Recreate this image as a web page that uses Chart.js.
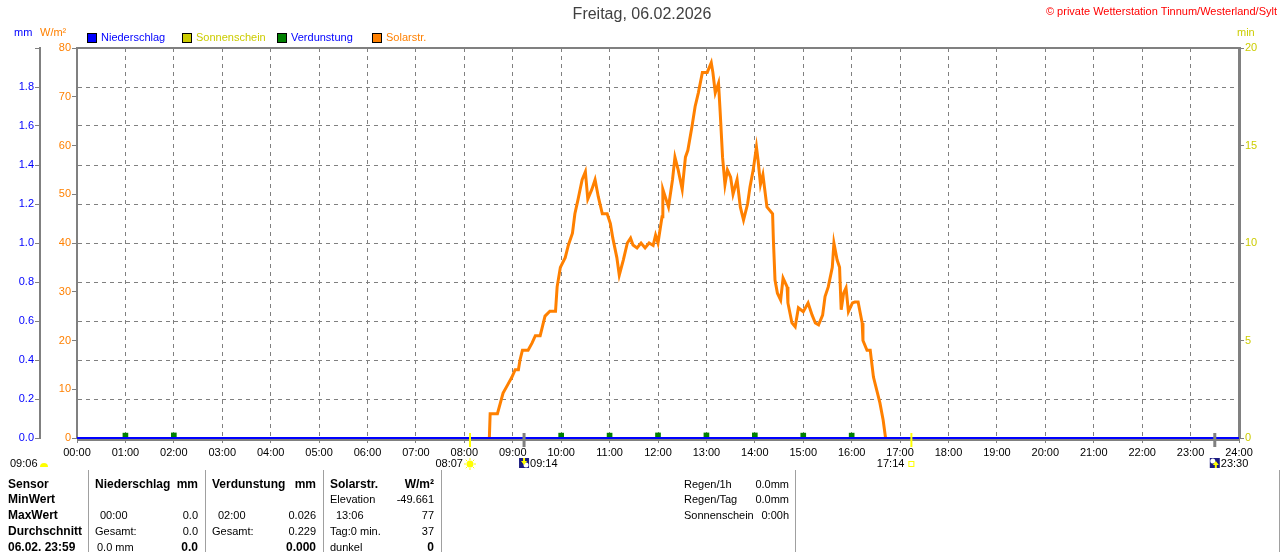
<!DOCTYPE html>
<html>
<head>
<meta charset="utf-8">
<script src="https://cdn.jsdelivr.net/npm/chart.js@4.4.0/dist/chart.umd.min.js"></script>
<style>
  body { margin: 0; background: #fff; }
  canvas { display: block; }
</style>
</head>
<body>
<canvas id="wetterChart" width="1280" height="552"></canvas>
<script>
// Solarstrahlung: Minuten seit 00:00 und Wert in W/m²
var solarMinuten = [511, 512, 521, 524, 528, 534, 539, 543, 547, 549, 552, 559, 564, 568, 574, 577, 580, 586, 593, 595,
  599, 605, 609, 614, 617, 621, 626, 630, 633, 638, 642, 646, 651, 657, 661, 664, 669, 672, 677, 682,
  686, 689, 694, 699, 704, 709, 714, 717, 720, 725, 726, 733, 738, 741, 745, 750, 754, 757, 762, 766,
  770, 775, 781, 786, 788, 791, 795, 797, 800, 803, 806, 810, 813, 818, 822, 826, 831, 834, 838, 842,
  844, 847, 850, 855, 862, 863, 865, 868, 872, 875, 880, 881, 886, 890, 894, 900, 906, 911, 915, 919,
  924, 927, 931, 936, 938, 942, 945, 947, 950, 953, 956, 961, 964, 968, 973, 974, 979, 983, 987, 992,
  995, 999, 1002];
var solarWerte = [0, 5, 5, 6.8, 9.2, 11, 12.5, 14, 14, 16, 18, 18, 19.5, 21, 21, 23, 25, 26, 26, 31,
  35, 37, 39.6, 42, 46, 49, 53, 54.6, 49, 51, 53, 49.5, 46, 46, 44, 41, 37, 33.4, 36.5, 40,
  41, 39.6, 39, 40, 39, 40, 39.5, 41.6, 40, 45.4, 51, 47.4, 53, 57.6, 55, 51, 57.6, 59, 63.8, 68,
  70.8, 75, 75, 77, 75, 70.8, 72.8, 67, 57.6, 52, 55, 53.5, 50, 53, 47.4, 44.7, 48, 51.5, 55, 59.7,
  57, 52, 54, 47.4, 46, 40.6, 32.4, 29.7, 28.3, 32.8, 31, 27.7, 23.6, 22.8, 26.7, 25.9, 27.7, 25.2, 23.6, 23.2,
  25.2, 29, 31, 35, 40, 36.5, 35, 26.3, 29.7, 30.8, 25.9, 27.7, 27.9, 27.9, 23.6, 20, 18, 18, 12.5, 9.2,
  7.2, 3.7, 0];

// Verdunstung pro Stunde (mm)
var verdunstungStunden = [1, 2, 10, 11, 12, 13, 14, 15, 16];
var verdunstungWerte = [0.025, 0.026, 0.025, 0.025, 0.026, 0.026, 0.026, 0.025, 0.025];

// Niederschlag pro Stunde (mm)
var niederschlagStunden = [0, 1, 2, 3, 4, 5, 6, 7, 8, 9, 10, 11, 12, 13, 14, 15, 16, 17, 18, 19, 20, 21, 22, 23, 24];
var niederschlagWerte = [0, 0, 0, 0, 0, 0, 0, 0, 0, 0, 0, 0, 0, 0, 0, 0, 0, 0, 0, 0, 0, 0, 0, 0, 0];

// Sonne und Mond
var sonnenAufgang = "08:07";
var sonnenUntergang = "17:14";
var mondUntergang = "09:14";
var mondAufgang = "23:30";
var sonnenscheinStart = "09:06";

// Tabelle unter dem Diagramm
var tabelleZeilen = ["Sensor", "MinWert", "MaxWert", "Durchschnitt", "06.02. 23:59"];

var ORANGE = "#ff8000";
var GELB = "#cccc00";
var BLAU = "#0000ff";
var GRUEN = "#008000";
var GRAU = "#808080";
var FONT = "'Liberation Sans', Arial, sans-serif";

function zeitInMinuten(t) {
  var p = t.split(":");
  return parseInt(p[0], 10) * 60 + parseInt(p[1], 10);
}

function punkte(xs, ys, faktor) {
  var arr = [];
  for (var i = 0; i < xs.length; i++) {
    arr.push({ x: xs[i] * faktor, y: ys[i] });
  }
  return arr;
}

function sonneZeichnen(ctx, x, y) {
  ctx.save();
  ctx.strokeStyle = "#ffff00";
  ctx.fillStyle = "#ffff00";
  ctx.lineWidth = 1;
  for (var a = 0; a < 8; a++) {
    var w = a * Math.PI / 4;
    ctx.beginPath();
    ctx.moveTo(x + Math.cos(w) * 4, y + Math.sin(w) * 4);
    ctx.lineTo(x + Math.cos(w) * 6, y + Math.sin(w) * 6);
    ctx.stroke();
  }
  ctx.beginPath();
  ctx.arc(x, y, 3.5, 0, Math.PI * 2);
  ctx.fill();
  ctx.restore();
}

function mondZeichnen(ctx, x, y, hoch) {
  ctx.save();
  ctx.fillStyle = "#1a1a80";
  ctx.fillRect(x, y, 10, 10);
  ctx.fillStyle = "#ffffff";
  ctx.beginPath();
  ctx.arc(hoch ? x + 3 : x + 7, hoch ? y + 3 : y + 7, 2.5, 0, Math.PI * 2);
  ctx.fill();
  ctx.fillStyle = "#ffff00";
  ctx.beginPath();
  if (hoch) {
    ctx.moveTo(x + 6, y + 3); ctx.lineTo(x + 9, y + 7); ctx.lineTo(x + 3, y + 7);
    ctx.fill();
    ctx.fillRect(x + 5, y + 6, 2, 4);
  } else {
    ctx.fillRect(x + 4, y, 2, 4);
    ctx.moveTo(x + 2, y + 3); ctx.lineTo(x + 8, y + 3); ctx.lineTo(x + 5, y + 7);
    ctx.fill();
  }
  ctx.restore();
}

var extrasPlugin = {
  id: "extras",
  afterDraw: function (chart) {
    var ctx = chart.ctx;
    var area = chart.chartArea;
    var xs = chart.scales.x;
    ctx.save();

    // Rahmen oben und unten
    ctx.strokeStyle = GRAU;
    ctx.lineWidth = 2;
    ctx.beginPath();
    ctx.moveTo(area.left, area.top);
    ctx.lineTo(area.right, area.top);
    ctx.moveTo(area.left, area.bottom + 2);
    ctx.lineTo(area.right, area.bottom + 2);
    ctx.stroke();

    // Titel
    ctx.fillStyle = "#404040";
    ctx.font = "16px " + FONT;
    ctx.textAlign = "center";
    ctx.textBaseline = "middle";
    ctx.fillText("Freitag, 06.02.2026", 642, 15);

    ctx.fillStyle = "#ff0000";
    ctx.font = "11px " + FONT;
    ctx.textAlign = "right";
    ctx.fillText("\u00a9 private Wetterstation Tinnum/Westerland/Sylt", 1277, 12);

    // Achsentitel
    ctx.textAlign = "left";
    ctx.fillStyle = BLAU;
    ctx.fillText("mm", 14, 33);
    ctx.fillStyle = ORANGE;
    ctx.fillText("W/m\u00b2", 40, 33);
    ctx.fillStyle = GELB;
    ctx.fillText("min", 1237, 33);

    // Legende
    var legende = [
      { farbe: BLAU, text: "Niederschlag", textFarbe: BLAU, x: 87 },
      { farbe: GELB, text: "Sonnenschein", textFarbe: GELB, x: 182 },
      { farbe: GRUEN, text: "Verdunstung", textFarbe: BLAU, x: 277 },
      { farbe: ORANGE, text: "Solarstr.", textFarbe: ORANGE, x: 372 }
    ];
    legende.forEach(function (l) {
      ctx.fillStyle = l.farbe;
      ctx.fillRect(l.x, 33, 10, 10);
      ctx.strokeStyle = "#000";
      ctx.lineWidth = 1;
      ctx.strokeRect(l.x + 0.5, 33.5, 9, 9);
      ctx.fillStyle = l.textFarbe;
      ctx.fillText(l.text, l.x + 14, 38);
    });

    // Sonnen- und Mondmarker
    var yo = area.bottom;
    function marker(t, farbe, breite) {
      var px = xs.getPixelForValue(zeitInMinuten(t));
      ctx.strokeStyle = farbe;
      ctx.lineWidth = breite;
      ctx.beginPath();
      ctx.moveTo(px, yo - 5);
      ctx.lineTo(px, yo + 9);
      ctx.stroke();
      return px;
    }
    ctx.font = "11px " + FONT;
    ctx.fillStyle = "#000";
    ctx.textBaseline = "middle";

    var pa = marker(sonnenAufgang, "#ffff00", 2);
    ctx.textAlign = "right";
    ctx.fillStyle = "#000";
    ctx.fillText(sonnenAufgang, pa - 7, 464);
    sonneZeichnen(ctx, pa, 464);

    var pu = marker(sonnenUntergang, "#ffff00", 2);
    ctx.fillStyle = "#000";
    ctx.fillText(sonnenUntergang, pu - 7, 464);
    ctx.strokeStyle = "#ffff00";
    ctx.lineWidth = 1;
    ctx.strokeRect(pu - 2.5, 461.5, 5, 5);

    var pm = marker(mondUntergang, GRAU, 3);
    mondZeichnen(ctx, pm - 5, 458, false);
    ctx.textAlign = "left";
    ctx.fillStyle = "#000";
    ctx.fillText(mondUntergang, pm + 6, 464);

    var pn = marker(mondAufgang, GRAU, 3);
    mondZeichnen(ctx, pn - 5, 458, true);
    ctx.fillStyle = "#000";
    ctx.fillText(mondAufgang, pn + 6, 464);

    ctx.fillText(sonnenscheinStart, 10, 464);
    ctx.fillStyle = "#ffff00";
    ctx.beginPath();
    ctx.arc(44, 467, 4, Math.PI, 0);
    ctx.fill();

    // Tabelle
    ctx.strokeStyle = "#a0a0a0";
    ctx.lineWidth = 1;
    [88, 205, 323, 441, 795, 1279].forEach(function (lx) {
      ctx.beginPath();
      ctx.moveTo(lx + 0.5, 470);
      ctx.lineTo(lx + 0.5, 552);
      ctx.stroke();
    });

    var zy = [485, 500, 516, 532, 548];
    ctx.fillStyle = "#000";
    ctx.textAlign = "left";
    ctx.font = "bold 12px " + FONT;
    tabelleZeilen.forEach(function (z, i) {
      ctx.fillText(z, 8, zy[i]);
    });

    function zelle(text, x, y, rechts, fett) {
      ctx.font = (fett ? "bold 12px " : "11px ") + FONT;
      ctx.textAlign = rechts ? "right" : "left";
      ctx.fillText(text, x, y);
    }
    zelle("Niederschlag", 95, zy[0], false, true);
    zelle("mm", 198, zy[0], true, true);
    zelle("00:00", 100, zy[2]);
    zelle("0.0", 198, zy[2], true);
    zelle("Gesamt:", 95, zy[3]);
    zelle("0.0", 198, zy[3], true);
    zelle("0.0 mm", 97, zy[4]);
    zelle("0.0", 198, zy[4], true, true);

    zelle("Verdunstung", 212, zy[0], false, true);
    zelle("mm", 316, zy[0], true, true);
    zelle("02:00", 218, zy[2]);
    zelle("0.026", 316, zy[2], true);
    zelle("Gesamt:", 212, zy[3]);
    zelle("0.229", 316, zy[3], true);
    zelle("0.000", 316, zy[4], true, true);

    zelle("Solarstr.", 330, zy[0], false, true);
    zelle("W/m\u00b2", 434, zy[0], true, true);
    zelle("Elevation", 330, zy[1]);
    zelle("-49.661", 434, zy[1], true);
    zelle("13:06", 336, zy[2]);
    zelle("77", 434, zy[2], true);
    zelle("Tag:0 min.", 330, zy[3]);
    zelle("37", 434, zy[3], true);
    zelle("dunkel", 330, zy[4]);
    zelle("0", 434, zy[4], true, true);

    zelle("Regen/1h", 684, zy[0]);
    zelle("0.0mm", 789, zy[0], true);
    zelle("Regen/Tag", 684, zy[1]);
    zelle("0.0mm", 789, zy[1], true);
    zelle("Sonnenschein", 684, zy[2]);
    zelle("0:00h", 789, zy[2], true);

    ctx.restore();
  }
};

var ctx = document.getElementById("wetterChart").getContext("2d");
var wetterChart = new Chart(ctx, {
  type: "line",
  data: {
    datasets: [
      {
        label: "Niederschlag",
        data: punkte(niederschlagStunden, niederschlagWerte, 60),
        yAxisID: "yMM",
        borderColor: BLAU,
        borderWidth: 2,
        pointRadius: 0,
        clip: 4,
        order: 0
      },
      {
        label: "Solarstr.",
        data: punkte(solarMinuten, solarWerte, 1),
        yAxisID: "y",
        borderColor: ORANGE,
        borderWidth: 3,
        pointRadius: 0,
        tension: 0,
        order: 1
      },
      {
        type: "bar",
        label: "Verdunstung",
        data: punkte(verdunstungStunden, verdunstungWerte, 60),
        yAxisID: "yMM",
        backgroundColor: GRUEN,
        barThickness: 5,
        order: 2
      }
    ]
  },
  options: {
    responsive: false,
    animation: false,
    layout: { padding: { top: 48, right: 0, left: 0, bottom: 0 } },
    plugins: {
      legend: { display: false },
      tooltip: { enabled: false }
    },
    scales: {
      x: {
        type: "linear",
        offset: false,
        min: 0,
        max: 1440,
        afterFit: function (s) { s.height = 114; },
        ticks: {
          stepSize: 60,
          color: "#000",
          font: { family: FONT, size: 11 },
          padding: 3,
          maxRotation: 0,
          autoSkip: false,
          callback: function (v) {
            var h = v / 60;
            return (h < 10 ? "0" : "") + h + ":00";
          }
        },
        grid: { color: GRAU, drawTicks: true, tickLength: 5, tickBorderDash: [], lineWidth: 1, offset: false },
        border: { color: GRAU, width: 2, dash: [4, 4], z: -1 }
      },
      yMM: {
        position: "left",
        weight: 1,
        min: 0,
        max: 2,
        afterFit: function (s) { s.width = 40; },
        ticks: {
          stepSize: 0.2,
          color: BLAU,
          font: { family: FONT, size: 11 },
          padding: 1,
          callback: function (v) {
            return v >= 1.99 ? "" : v.toFixed(1);
          }
        },
        grid: { color: GRAU, tickLength: 5, tickBorderDash: [], tickColor: GRAU },
        border: { color: GRAU, width: 2, dash: [4, 4] }
      },
      y: {
        position: "left",
        weight: 0,
        min: 0,
        max: 80,
        afterFit: function (s) { s.width = 37; },
        ticks: {
          stepSize: 10,
          color: ORANGE,
          font: { family: FONT, size: 11 },
          padding: 1
        },
        grid: { drawOnChartArea: false, tickLength: 5, color: GRAU },
        border: { color: GRAU, width: 2 }
      },
      yMin: {
        position: "right",
        min: 0,
        max: 20,
        afterFit: function (s) { s.width = 41; },
        ticks: {
          stepSize: 5,
          color: GELB,
          font: { family: FONT, size: 11 },
          padding: 1
        },
        grid: { drawOnChartArea: false, tickLength: 5, color: GRAU },
        border: { color: GRAU, width: 3 }
      }
    }
  },
  plugins: [extrasPlugin]
});
</script>
</body>
</html>
